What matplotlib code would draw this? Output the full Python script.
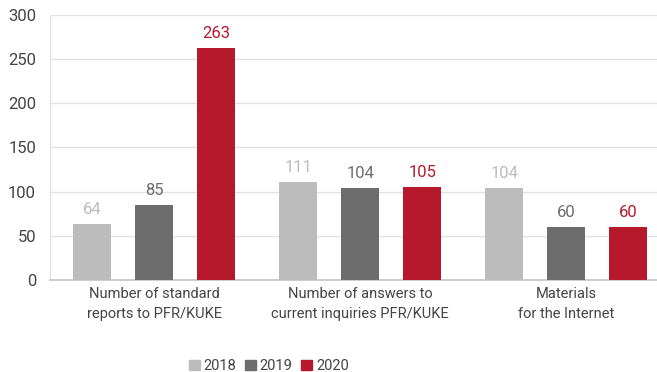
import matplotlib.pyplot as plt
import matplotlib.patches as mpatches
import numpy as np

plt.rcParams['font.family'] = ['Roboto', 'DejaVu Sans']

categories = ['Number of standard\nreports to PFR/KUKE',
              'Number of answers to\ncurrent inquiries PFR/KUKE',
              'Materials\nfor the Internet']
years = ['2018', '2019', '2020']
v2018 = [64, 111, 104]
v2019 = [85, 104, 60]
v2020 = [263, 105, 60]
colors = ['#bcbcbc', '#6d6d6d', '#b5192b']

fig = plt.figure(figsize=(6.57, 3.72), dpi=100)
ax = fig.add_axes([0.076, 0.247, 0.924, 0.713])

x = np.arange(len(categories))
step = 0.301
width = 0.184
for i, (vals, c) in enumerate(zip([v2018, v2019, v2020], colors)):
    pos = x + (i - 1) * step
    ax.bar(pos, vals, width, color=c, zorder=3)
    for p, v in zip(pos, vals):
        ax.annotate(str(v), (p, v), xytext=(0, 5), textcoords='offset points',
                    ha='center', va='bottom', fontsize=12, color=c)

ax.set_xlim(-0.505, 2.44)
ax.set_ylim(0, 300)
ax.set_yticks(range(0, 301, 50))
ax.yaxis.grid(True, color='#e2e2e2', linewidth=1, zorder=0)
ax.tick_params(axis='y', length=0, labelsize=12, labelcolor='#444444', pad=10)
ax.tick_params(axis='x', length=0, labelsize=10.5, labelcolor='#444444', pad=5)
ax.set_xticks(x)
ax.set_xticklabels(categories, linespacing=1.55)
for s in ['top', 'right']:
    ax.spines[s].set_visible(False)
ax.spines['left'].set_color('#dddddd')
ax.spines['bottom'].set_color('#c4c4c4')
ax.spines['bottom'].set_linewidth(1.2)

handles = [mpatches.Patch(color=c, label=y) for y, c in zip(years, colors)]
fig.legend(handles=handles, loc='center', bbox_to_anchor=(269 / 657, 1 - 366 / 372),
           ncol=3, frameon=False, fontsize=10.5, handlelength=0.75, handleheight=0.75,
           handletextpad=0.25, columnspacing=0.6, labelcolor='#444444')

fig.savefig('out.png', dpi=100)
